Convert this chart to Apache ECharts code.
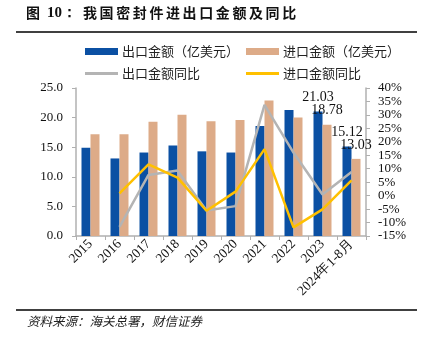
<!DOCTYPE html>
<html><head><meta charset="utf-8">
<script src="https://cdn.jsdelivr.net/npm/echarts@6/dist/echarts.min.js"></script>
<style>html,body{margin:0;padding:0;background:#fff}#c{width:422px;height:343px}</style>
</head><body><div id="c"></div>
<script>
var categories = ['2015','2016','2017','2018','2019','2020','2021','2022','2023','2024年1-8月'];
var exportAmt = [14.9, 13.1, 14.1, 15.3, 14.3, 14.1, 18.6, 21.3, 21.03, 15.12];
var importAmt = [17.2, 17.2, 19.3, 20.5, 19.4, 19.6, 22.9, 20.0, 18.78, 13.03];
var exportYoY = [null, -11.6, 7.7, 9.3, -5.5, -3.9, 33.7, 16.0, 0.4, 8.8];
var importYoY = [null, 0.8, 11.6, 6.7, -5.6, 1.5, 17.3, -11.8, -5.1, 5.7];
var leftTicks = [0, 25, 5];
var rightTicks = [-15, 40, 5];
var labeledIdx = [8, 9];

var serif = '"Times New Roman","Liberation Serif","DejaVu Serif",serif';
var cjk = '"Noto Sans CJK SC","Noto Sans",sans-serif';

function barData(arr){
  return arr.map(function(v,i){
    return labeledIdx.indexOf(i) >= 0 ? {value:v, label:{show:true}} : v;
  });
}

var titleChars = ['我','国','密','封','件','进','出','口','金','额','及','同','比'];
var titleEls = [
  {type:'text', left:26, top:6, style:{text:'图', font:'bold 14px '+cjk, fill:'#111'}},
  {type:'text', left:47, top:6, style:{text:'10：', font:'bold 15px '+serif, fill:'#111'}}
];
titleChars.forEach(function(ch,i){
  titleEls.push({type:'text', left:83 + i*16.6, top:6, style:{text:ch, font:'bold 14px '+cjk, fill:'#111'}});
});

var legText = {fontFamily:cjk, fontSize:13, color:'#222', padding:[0,0,0,-1]};
var chart = echarts.init(document.getElementById('c'));
chart.setOption({
  animation:false,
  backgroundColor:'#fff',
  graphic: titleEls.concat([
    {type:'rect', shape:{x:16, y:31, width:401, height:2}, style:{fill:'#404040'}},
    {type:'rect', shape:{x:16, y:309, width:401, height:2}, style:{fill:'#404040'}},
    {type:'text', left:27, top:315, style:{text:'资料来源：海关总署，财信证券', font:'italic 12.5px '+cjk, fill:'#222'}}
  ]),
  legend:[
    {left:80, top:40, itemWidth:33, itemHeight:7, icon:'rect', textStyle:legText,
     data:['出口金额（亿美元）']},
    {left:241, top:40, itemWidth:33, itemHeight:7, icon:'rect', textStyle:legText,
     data:['进口金额（亿美元）']},
    {left:80, top:62, itemWidth:33, itemHeight:3, icon:'rect', textStyle:legText,
     data:['出口金额同比']},
    {left:241, top:62, itemWidth:33, itemHeight:3, icon:'rect', textStyle:legText,
     data:['进口金额同比']}
  ],
  grid:{left:76, right:56, top:88, bottom:107, containLabel:false},
  xAxis:{
    type:'category', data:categories,
    axisLine:{lineStyle:{color:'#b0b0b0', width:1.5}},
    axisTick:{show:true, length:4, lineStyle:{color:'#b0b0b0'}, alignWithLabel:false},
    axisLabel:{rotate:45, interval:0, fontFamily:serif, fontSize:13.5, color:'#111', margin:6}
  },
  yAxis:[
    {type:'value', min:leftTicks[0], max:leftTicks[1], interval:leftTicks[2],
     axisLine:{show:true, lineStyle:{color:'#b0b0b0', width:1.5}},
     axisTick:{show:true, length:4, lineStyle:{color:'#b0b0b0'}},
     splitLine:{show:false},
     axisLabel:{fontFamily:serif, fontSize:13, color:'#111', margin:13,
       formatter:function(v){return v.toFixed(1);}}},
    {type:'value', min:rightTicks[0], max:rightTicks[1], interval:rightTicks[2],
     axisLine:{show:true, lineStyle:{color:'#b0b0b0', width:1.5}},
     axisTick:{show:true, length:4, lineStyle:{color:'#b0b0b0'}},
     splitLine:{show:false},
     axisLabel:{fontFamily:serif, fontSize:13, color:'#111', margin:12,
       formatter:function(v){return v+'%';}}}
  ],
  series:[
    {name:'出口金额（亿美元）', type:'bar', data:barData(exportAmt), barWidth:9, barGap:'0%',
     itemStyle:{color:'#0B50A3'},
     label:{show:false, position:'top', distance:7, fontFamily:serif, fontSize:14, color:'#111'}},
    {name:'进口金额（亿美元）', type:'bar', data:barData(importAmt), barWidth:9, barGap:'0%',
     itemStyle:{color:'#DDAB88'},
     label:{show:false, position:'top', distance:7, fontFamily:serif, fontSize:14, color:'#111'}},
    {name:'出口金额同比', type:'line', yAxisIndex:1, data:exportYoY, symbol:'none',
     lineStyle:{color:'#B4B4B4', width:2.5}, itemStyle:{color:'#B4B4B4'}},
    {name:'进口金额同比', type:'line', yAxisIndex:1, data:importYoY, symbol:'none',
     lineStyle:{color:'#FFC000', width:2.5}, itemStyle:{color:'#FFC000'}}
  ]
});
</script></body></html>
